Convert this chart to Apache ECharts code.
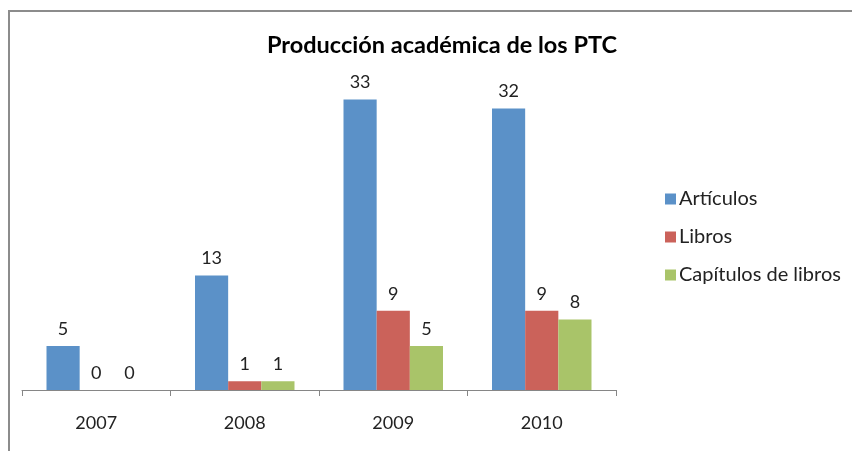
<!DOCTYPE html>
<html>
<head>
<meta charset="utf-8">
<script src="https://cdn.jsdelivr.net/npm/echarts@6/dist/echarts.min.js"></script>
<style>
  html, body { margin: 0; padding: 0; background: #fff; }
  #frame { position: absolute; left: 8px; top: 10px; width: 860px; height: 460px; border: 2px solid #8c8c8c; box-sizing: border-box; }
  #chart { position: absolute; left: 0; top: 0; width: 852px; height: 451px; }
</style>
</head>
<body>
<div id="frame"></div>
<div id="chart"></div>
<script>
// datos del gráfico
const years = ['2007', '2008', '2009', '2010'];
const articulos = [5, 13, 33, 32];
const libros = [0, 1, 9, 9];
const capitulos = [0, 1, 5, 8];

const font = 'Lato, "Open Sans", sans-serif';

const label = {
    show: true,
    position: 'top',
    distance: 8,
    color: '#222',
    fontSize: 18,
    fontFamily: font
};

const chart = echarts.init(document.getElementById('chart'), null, {renderer: 'canvas'});
chart.setOption({
    animation: false,
    title: {
        text: 'Producción académica de los PTC',
        left: 437,
        textAlign: 'center',
        top: 28,
        textStyle: {fontSize: 23.5, fontWeight: 'bold', color: '#000', fontFamily: font}
    },
    legend: {
        orient: 'vertical',
        left: 660,
        top: 184,
        itemWidth: 11,
        itemHeight: 11,
        itemGap: 18,
        icon: 'rect',
        textStyle: {fontSize: 20, color: '#222', fontFamily: font, padding: [0, 0, 0, -2]}
    },
    grid: {left: 22, right: 236, top: 82, bottom: 61},
    xAxis: {
        type: 'category',
        data: years,
        axisLine: {lineStyle: {color: '#868686', width: 1}},
        axisTick: {show: true, length: 6, lineStyle: {color: '#868686'}},
        axisLabel: {fontSize: 18, color: '#222', margin: 24, fontFamily: font}
    },
    yAxis: {
        type: 'value',
        min: 0,
        max: 35,
        show: false,
        splitLine: {show: false}
    },
    series: [
        {name: 'Artículos', type: 'bar', data: articulos, barGap: 0, barCategoryGap: '33%',
         itemStyle: {color: '#5b91c8'}, label},
        {name: 'Libros', type: 'bar', data: libros,
         itemStyle: {color: '#cb625a'}, label},
        {name: 'Capítulos de libros', type: 'bar', data: capitulos,
         itemStyle: {color: '#a9c469'}, label}
    ]
});
</script>
</body>
</html>
